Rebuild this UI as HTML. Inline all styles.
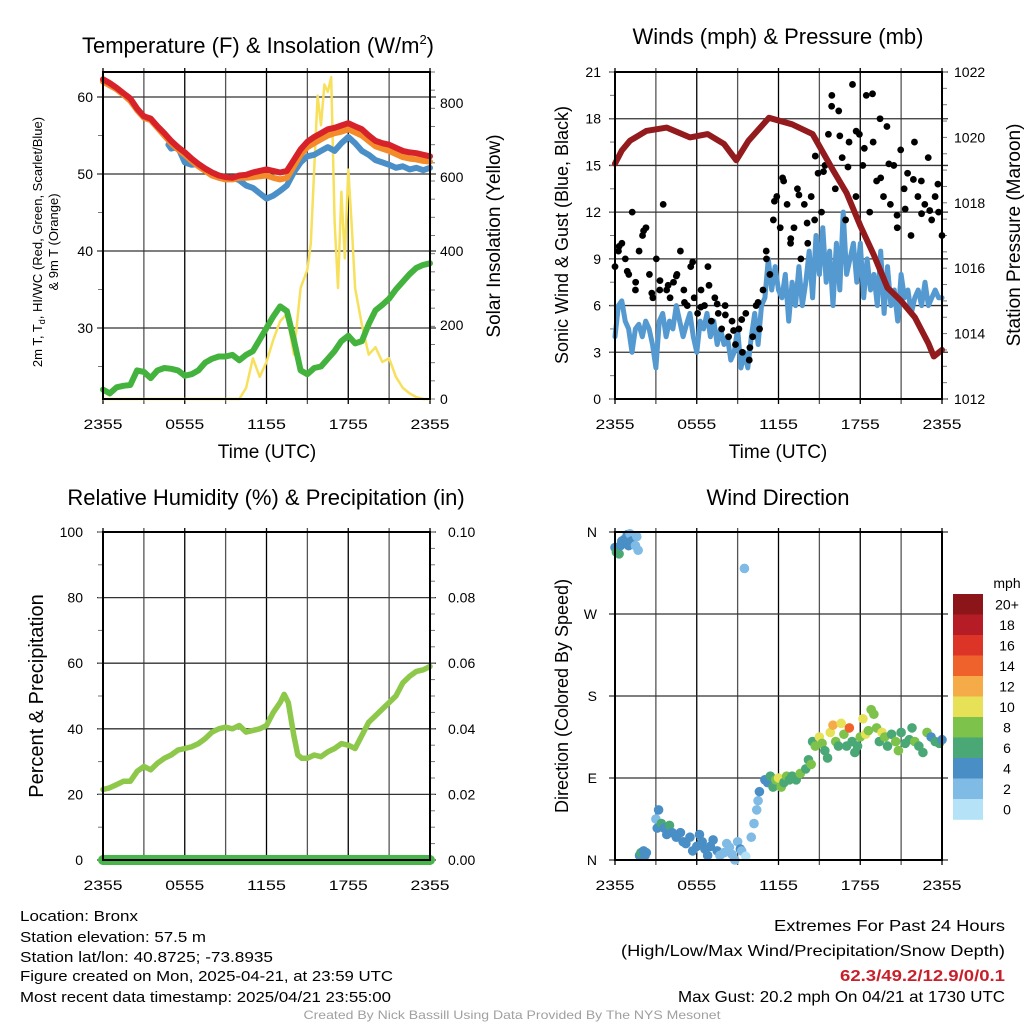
<!DOCTYPE html>
<html><head><meta charset="utf-8"><style>
html,body{margin:0;padding:0;background:#fff;}
svg{display:block;font-family:"Liberation Sans",sans-serif;}
</style></head><body>
<svg id="fig" width="1024" height="1024" viewBox="0 0 1024 1024" xmlns="http://www.w3.org/2000/svg"></svg>
<script>
// ---------- data ----------
const timesHalf = [0,0.5,1,1.5,2,2.5,3,3.5,4,4.5,5,5.5,6,6.5,7,7.5,8,8.5,9,9.5,10,10.5,11,11.5,12,12.5,13,13.5,14,14.5,15,15.5,16,16.5,17,17.5,18,18.5,19,19.5,20,20.5,21,21.5,22,22.5,23,23.5,24];
const tempRed = [62.3,61.8,61.2,60.5,59.8,58.5,57.5,57.2,56.2,55.3,54.3,53.5,52.8,52.0,51.3,50.7,50.2,49.8,49.6,49.5,49.8,49.9,50.2,50.4,50.6,50.4,50.2,50.4,51.8,53.2,54.2,54.8,55.3,55.8,56.0,56.3,56.6,56.2,55.8,55.0,54.3,54.0,53.8,53.4,53.0,52.8,52.7,52.5,52.3];
const tempOrange = [62.0,61.5,61.0,60.3,59.5,58.3,57.3,57.0,56.0,55.0,54.0,53.2,52.5,51.7,51.0,50.4,49.8,49.5,49.3,49.3,49.5,49.5,49.6,49.7,49.8,49.5,49.3,49.5,51.0,52.5,53.5,54.0,54.5,55.0,55.3,55.5,55.8,55.4,55.0,54.3,53.6,53.3,53.0,52.6,52.2,52.0,51.9,51.7,51.6];
const timesBlue = [4.8,5.0,5.5,6.0,6.5,7.0,7.5,8,8.5,9,9.5,10,10.5,11,11.5,12,12.5,13,13.5,14,14.5,15,15.5,16,16.5,17,17.5,18,18.5,19,19.5,20,20.5,21,21.5,22,22.5,23,23.5,24];
const tempBlue = [53.8,53.3,53.5,51.5,51.2,51.3,50.7,50.2,49.8,49.6,49.5,49.2,48.5,48.2,47.5,46.8,47.2,47.8,48.5,50.2,51.5,52.3,52.5,53.0,53.5,53.0,54.0,54.8,54.0,53.0,52.5,51.8,51.5,51.2,50.8,51.0,50.6,50.8,50.5,50.8];
const dewGreen = [22.0,21.5,22.3,22.5,22.6,24.5,24.3,23.5,24.5,24.8,24.7,24.5,23.8,24.0,24.5,25.5,26.0,26.3,26.3,26.5,25.8,26.5,27.0,28.5,30.0,31.5,32.8,32.2,28.5,24.5,24.0,24.8,25.0,26.0,27.0,28.3,29.0,28.0,28.3,30.5,32.3,33.0,33.8,35.0,36.0,37.0,37.8,38.2,38.4];
const insolTimes = [0,10,10.5,11,11.5,12,12.5,13,13.5,14,14.5,15,15.25,15.5,15.75,16,16.25,16.5,16.75,17,17.25,17.5,17.75,18,18.25,18.5,19,19.5,20,20.5,21,21.5,22,22.5,23,23.5,24];
const insolValues = [0,0,30,110,60,100,160,210,230,120,300,350,420,620,820,740,850,830,870,480,300,560,380,620,470,300,200,120,140,100,110,60,30,15,5,0,0];
const pressTimes = [0,0.5,1.1,2.3,3.8,5.5,6.8,8,8.9,9.8,11.3,13,14.5,16,17,18,19,20,21,22,23,23.4,24];
const pressValues = [1019.2,1019.6,1019.9,1020.2,1020.3,1020.0,1020.1,1019.8,1019.3,1019.9,1020.6,1020.4,1020.1,1019.0,1018.3,1017.3,1016.4,1015.4,1015.0,1014.5,1013.7,1013.3,1013.5];
const windSpeed = [4,6,6.3,5,4.5,3,4.5,4.8, 4,5,4.5,3.5,2,5,5.5,4, 5,4.5,6,5,4,4.8,5.5,4, 3,5,4.5,5.5,4,5,3.5,4.5, 3.5,4,2.5,3,4.5,2,3,2, 4,5.5,3.5,6,6.5,9,7,8.5, 7,6.5,8,5,7.5,6,8.5,6, 7.5,9.5,6.5,10.5,8,11,7.5,9.5, 6,10,7,12,8,9,10,7.5, 10,6.5,9,7,8,6,9.5,5.5, 8.5,6,7,5,8,6.5,7,5.5, 6.5,7,6,7.5,6,6.5,7,6.5,6.5];
const gustValues = [8.5,9.5,10,9,8,12,7.5,9.5,10.5,11,8,6.5,9,7,12.5,7,6.5,7.5,8,9.5,7,6,8.5,6.5,5.5,7,6,8.5,5,6.5,5.5,4.5,6,4,5,3.5,4.5,3,5.5,2.5,4,6,4.5,7,9,8,11.5,13,11,14,12.5,10,11,13.5,9,12.5,10,13,11.5,14.5,12,15,17,19.5,13.5,18.5,15.5,11.5,16.5,20.2,13,17,15,19.5,12,16.5,14,18,13,17.5,12.5,15,11,16,13.5,14.5,10.5,16.5,13,14,12.5,15.5,11.5,13,12,10.5];
const gustValues2 = [9.8,8.2,7,10.8,6.8,7.6,7.3,7.9,6.2,8.8,5.9,7.3,6.1,5.4,4.4,5.1,3.3,6.2,9.5,12.7,14.2,10.3,13.1,11.3,15.6,14.6,18.8,16.9,14.9,17.2,16.1,19.6,14.2,15.1,11.8,12.2,14.1,11.9,12.1,13.8];
const dirTimes = [0,0.1,0.3,0.4,0.5,0.7,0.9,1.0,1.1,1.2,1.5,1.6,1.7,1.8,1.9,2.1,2.2,2.3,3.0,3.1,3.2,3.4,3.6,3.8,4.0,4.2,4.5,4.8,5.0,5.2,5.5,5.7,6.0,6.2,6.4,6.6,6.8,7.0,7.2,7.5,7.7,8.0,8.2,8.4,8.6,8.8,9.0,9.2,9.3,9.5,9.6,10.0,10.2,10.4,10.5,10.6,11.0,11.2,11.4,11.6,11.8,12.0,12.2,12.4,12.6,12.8,13.0,13.3,13.6,14.0,14.2,14.4,14.5,14.7,15.0,15.2,15.4,15.6,15.8,16.0,16.2,16.4,16.6,16.8,17.0,17.2,17.4,17.6,17.8,18.0,18.2,18.4,18.6,18.8,19.0,19.2,19.4,19.6,19.8,20.0,20.3,20.6,20.8,21.0,21.3,21.6,21.8,22.0,22.3,22.6,22.9,23.2,23.5,23.8,24.0];
const dirValues = [343,338,336,345,350,352,357,345,358,350,345,355,340,5,8,10,5,8,45,35,55,40,35,28,38,30,25,30,20,18,25,10,15,28,20,12,5,15,22,10,5,8,18,14,6,0,20,12,10,320,4,25,40,55,65,75,88,85,92,80,88,90,80,85,92,88,92,88,95,100,110,105,130,125,135,128,120,112,140,148,130,125,150,138,125,145,130,118,125,135,155,138,142,165,160,145,130,140,135,125,138,130,120,140,128,132,145,130,125,118,140,135,130,128,132];
const dirSpeeds = [4,6,6,5,4,4,4,4,3,4,2,2,2,4,6,4,4,4,2,4,4,6,4,4,6,4,4,4,4,4,4,4,4,4,4,4,4,4,4,4,3,2,2,2,2,2,2,4,2,2,0,2,2,2,2,4,4,4,6,6,8,10,8,6,8,6,6,6,8,6,6,8,6,8,10,8,6,6,10,12,8,6,10,8,6,14,6,6,6,8,10,10,8,8,8,8,6,10,8,6,6,8,8,6,6,6,6,8,6,6,8,4,6,6,4];
const rhTimes = [0,0.5,1,1.5,2,2.5,3,3.5,4,4.5,5,5.5,6,6.5,7,7.5,8,8.5,9,9.5,10,10.5,11,11.5,12,12.5,13,13.3,13.6,14,14.3,14.6,15,15.5,16,16.5,17,17.5,18,18.5,19,19.5,20,20.5,21,21.5,22,22.5,23,23.5,24];
const rhValues = [21.5,22,23,24,24,27,28.5,27.5,29.5,31,32,33.5,34,34.5,35.5,37,39,40,40.5,40,41,39,39.5,40,41,45,48,50.5,48,38,32,31,31,32,31.5,33,34,35.5,35,34,38,42,44,46,48,50,54,56,57.5,58,59];
const precipTimes = [0,24];
const precipValues = [0,0];
const tempTicks = [30,40,50,60];
const insolTicks = [0,200,400,600,800];
const windTicks = [0,3,6,9,12,15,18,21];
const pressTicks = [1012,1014,1016,1018,1020,1022];
const rhTicks = [0,20,40,60,80,100];
const precipTicks = ["0.00","0.02","0.04","0.06","0.08","0.10"];
const dirLabels = ["N","E","S","W","N"];
const timeLabels = ["2355","0555","1155","1755","2355"];
const legendLabels = ["0","2","4","6","8","10","12","14","16","18","20+"];
const legendColors = ["#b5e2f7","#7fbbe5","#4a8ec6","#49a876","#7cc24b","#e6e157","#f5ab48","#ef622b","#dc3527","#b61c25","#8c1519"];

// ---------- helpers ----------
const NS = "http://www.w3.org/2000/svg";
const svg = document.getElementById('fig');
function mk(tag, attrs, parent){
  const e = document.createElementNS(NS, tag);
  for (const k in attrs) e.setAttribute(k, attrs[k]);
  (parent||svg).appendChild(e);
  return e;
}
function txt(s, x, y, size, anchor, parent, extra){
  const t = mk('text', Object.assign({x:x, y:y, 'font-size':size, 'text-anchor':anchor||'middle', fill:'#000'}, extra||{}), parent);
  t.textContent = s;
  return t;
}
function linScale(d0,d1,r0,r1){ return v => r0 + (v-d0)/(d1-d0)*(r1-r0); }

function panel(name){
  const g = mk('g', {});
  
  
  return g;
}
function grid(g, L, T, R, B, yPositions){
  const xs = linScale(0,24,L,R);
  for (let h=0; h<=24; h+=3){
    const gl = mk('line',{x1:xs(h),x2:xs(h),y1:T-4,y2:B+5,stroke:(h%6===0?'#000':'#555'),'stroke-width':1.3},g);
    
    
  }
  yPositions.forEach(y=>{
    const gl = mk('line',{x1:L-6,x2:R+6,y1:y,y2:y,stroke:'#333','stroke-width':1.3},g);
    
    
  });
}
function frame(g, L,T,R,B){
  const f = mk('rect',{x:L,y:T,width:R-L,height:B-T,fill:'none',stroke:'#000','stroke-width':2},g);
  
  
}
function xLabels(g, L, R, y){
  const xs = linScale(0,24,L,R);
  timeLabels.forEach((s,i)=>{
    const t = txt(s, xs(i*6), y, 14, 'middle', g, {textLength:39, lengthAdjust:'spacingAndGlyphs'});
    
    
  });
}
function minorTicks(g, x, T, B, n, side){
  if (n<=0) return;
  for (let i=0;i<=n;i++){
    const y = T + (B-T)*i/n;
    const m = mk('line',{x1:x,x2:x+(side>0?5:-5),y1:y,y2:y,stroke:'#777','stroke-width':1},g);
    
    
  }
}
function polyline(g, xsArr, ysArr, xs, ys, color, w, name){
  const pts = xsArr.map((t,i)=>xs(t).toFixed(1)+','+ys(ysArr[i]).toFixed(1)).join(' ');
  const p = mk('polyline',{points:pts,fill:'none',stroke:color,'stroke-width':w,'stroke-linejoin':'round','stroke-linecap':'round'},g);
  
  
  return p;
}

// ---------- panel 1: temperature ----------
(function(){
  const L=103,T=72,R=430,B=399;
  const g = panel('temperature-panel');
  const xs = linScale(0,24,L,R);
  const yT = linScale(30,60,328,97);
  const yI = linScale(0,800,399,103);
  grid(g,L,T,R,B,tempTicks.map(yT));
  minorTicks(g,R,T,B,18,1);
  [25,35,45,55].forEach(v=>{ const m=mk('line',{x1:L,x2:L-5,y1:yT(v),y2:yT(v),stroke:'#777'},g);  });
  polyline(g, insolTimes, insolValues, xs, yI, '#f7e15c', 2.5, 'insolation-line');
  polyline(g, timesHalf, dewGreen, xs, yT, '#43b33e', 6, 'dewpoint-line');
  polyline(g, timesBlue, tempBlue, xs, yT, '#4b8fc8', 6, 'windchill-line');
  polyline(g, timesHalf, tempOrange, xs, yT, '#f48b2b', 6, 'temp-9m-line');
  polyline(g, timesHalf, tempRed, xs, yT, '#d7222a', 6, 'temp-2m-line');
  frame(g,L,T,R,B);
  tempTicks.forEach(v=>{ const t=txt(String(v), L-10, yT(v)+5, 14, 'end', g);   });
  insolTicks.forEach(v=>{ const t=txt(String(v), R+10, yI(v)+5, 14, 'start', g);   });
  xLabels(g,L,R,429);
  const xt = txt('Time (UTC)', 267, 458, 19, 'middle', g);  
  const tt = txt('Temperature (F) & Insolation (W/m', 258, 53, 22, 'middle', g);  
  const sup = mk('tspan',{'font-size':13,dy:-9},tt); sup.textContent='2';
  const cl = mk('tspan',{dy:9},tt); cl.textContent=')';
  const a1 = txt('2m T, T', 0,0,13,'middle',g,{transform:'translate(42,242) rotate(-90)'});
   
  const sb = mk('tspan',{'font-size':9,dy:3},a1); sb.textContent='d';
  const rest = mk('tspan',{dy:-3},a1); rest.textContent=', HI/WC (Red, Green, Scarlet/Blue)';
  const a2 = txt('& 9m T (Orange)', 0,0,13,'middle',g,{transform:'translate(58,242) rotate(-90)'});
   
  const a3 = txt('Solar Insolation (Yellow)', 0,0,19,'middle',g,{transform:'translate(500,236) rotate(-90)'});
   
})();

// ---------- panel 2: winds ----------
(function(){
  const L=615,T=72,R=942,B=399;
  const g = panel('winds-panel');
  const xs = linScale(0,24,L,R);
  const yW = linScale(0,21,B,T);
  const yP = linScale(1012,1022,B,T);
  grid(g,L,T,R,B,windTicks.map(yW));
  minorTicks(g,R,T,B,20,1);
  minorTicks(g,L,T,B,14,-1);
  const windTimes = windSpeed.map((v,i)=>i*24/(windSpeed.length-1));
  polyline(g, windTimes, windSpeed, xs, yW, '#5599d1', 5, 'sonic-wind-line');
  const gustT1 = gustValues.map((v,i)=>i*24/(gustValues.length-1));
  const gustT2 = gustValues2.map((v,i)=>0.3+i*23.4/(gustValues2.length-1));
  gustValues.forEach((v,i)=>{ const c=mk('circle',{cx:xs(gustT1[i]),cy:yW(v),r:3.4,fill:'#000'},g);   });
  gustValues2.forEach((v,i)=>{ const c=mk('circle',{cx:xs(gustT2[i]),cy:yW(v),r:3.4,fill:'#000'},g);   });
  polyline(g, pressTimes, pressValues, xs, yP, '#931a1d', 6, 'pressure-line');
  frame(g,L,T,R,B);
  windTicks.forEach(v=>{ const t=txt(String(v), L-14, yW(v)+5, 14, 'end', g);   });
  pressTicks.forEach(v=>{ const t=txt(String(v), R+12, yP(v)+5, 14, 'start', g);   });
  xLabels(g,L,R,429);
  const xt = txt('Time (UTC)', 778, 458, 19, 'middle', g);  
  const tt = txt('Winds (mph) & Pressure (mb)', 778, 44, 22, 'middle', g);  
  const a1 = txt('Sonic Wind & Gust (Blue, Black)', 0,0,18,'middle',g,{transform:'translate(568,235) rotate(-90)'});
   
  const a2 = txt('Station Pressure (Maroon)', 0,0,19,'middle',g,{transform:'translate(1020,235) rotate(-90)'});
   
})();

// ---------- panel 3: RH ----------
(function(){
  const L=103,T=532,R=430,B=860;
  const g = panel('humidity-panel');
  const xs = linScale(0,24,L,R);
  const yR = linScale(0,100,B,T);
  grid(g,L,T,R,B,rhTicks.map(yR));
  minorTicks(g,R,T,B,20,1);
  minorTicks(g,L,T,B,10,-1);
  polyline(g, rhTimes, rhValues, xs, yR, '#8dc84b', 5.5, 'rh-line');
  polyline(g, precipTimes, precipValues, xs, yR, '#47b54a', 10, 'precip-line');
  frame(g,L,T,R,B);
  rhTicks.forEach(v=>{ const t=txt(String(v), L-20, yR(v)+5, 14, 'end', g);   });
  precipTicks.forEach((s,i)=>{ const t=txt(s, R+18, yR(i*20)+5, 14, 'start', g);   });
  xLabels(g,L,R,890);
  const tt = txt('Relative Humidity (%) & Precipitation (in)', 266, 505, 22, 'middle', g);  
  const a1 = txt('Percent & Precipitation', 0,0,20,'middle',g,{transform:'translate(43,696) rotate(-90)'});
   
})();

// ---------- panel 4: wind direction ----------
(function(){
  const L=615,T=532,R=942,B=860;
  const g = panel('wind-direction-panel');
  const xs = linScale(0,24,L,R);
  const yD = linScale(0,360,B,T);
  grid(g,L,T,R,B,[0,90,180,270,360].map(yD));
  dirValues.forEach((v,i)=>{
    const idx = Math.min(10, Math.floor(dirSpeeds[i]/2));
    const c = mk('circle',{cx:xs(dirTimes[i]),cy:yD(v),r:4.8,fill:legendColors[idx]},g);
    
    
  });
  frame(g,L,T,R,B);
  dirLabels.forEach((s,i)=>{ const t=txt(s, L-18, yD(i*90)+5, 14, 'end', g);   });
  xLabels(g,L,R,890);
  const tt = txt('Wind Direction', 778, 505, 22, 'middle', g);  
  const a1 = txt('Direction (Colored By Speed)', 0,0,18,'middle',g,{transform:'translate(568,696) rotate(-90)'});
   
  const lg = mk('g',{},g);
  
  
  const lt = txt('mph', 1007, 588, 14, 'middle', lg);  
  const top=594, h=20.5;
  legendColors.forEach((c,i)=>{
    const k = 10-i;
    const r = mk('rect',{x:953,y:top+i*h,width:30,height:h+0.3,fill:legendColors[k]},lg);
    
    
    const t = txt(legendLabels[k], 1007, top+i*h+h/2+5, 14, 'middle', lg);
    
    
  });
})();

// ---------- footer text ----------
(function(){
  const g = mk('g',{});
  
  
  const left = [["Location: Bronx",118,921],["Station elevation: 57.5 m",186,942],["Station lat/lon: 40.8725; -73.8935",253,962],["Figure created on Mon, 2025-04-21, at 23:59 UTC",373,981],["Most recent data timestamp: 2025/04/21 23:55:00",371,1002]];
  left.forEach(([s,w,y])=>{ const t=txt(s,20,y,15,'start',g,{textLength:w,lengthAdjust:'spacingAndGlyphs'});   });
  const g2 = mk('g',{});
  
  
  const right = [["Extremes For Past 24 Hours",231,931,'#000','normal'],["(High/Low/Max Wind/Precipitation/Snow Depth)",384,956,'#000','normal'],["62.3/49.2/12.9/0/0.1",165,981,'#c8202a','bold'],["Max Gust: 20.2 mph On 04/21 at 1730 UTC",327,1002,'#000','normal']];
  right.forEach(([s,w,y,c,fw])=>{ const t=txt(s,1005,y,16,'end',g2,{textLength:w,lengthAdjust:'spacingAndGlyphs',fill:c,'font-weight':fw});   });
  const cr = txt('Created By Nick Bassill Using Data Provided By The NYS Mesonet', 512, 1019, 12, 'middle', null, {fill:'#a0a0a0',textLength:417,lengthAdjust:'spacingAndGlyphs'});
  
  
})();
</script>
</body></html>
